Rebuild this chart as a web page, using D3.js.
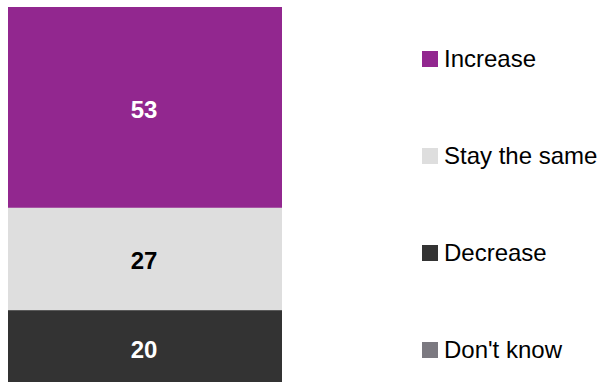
<!DOCTYPE html>
<html>
<head>
<meta charset="utf-8">
<script src="https://cdn.jsdelivr.net/npm/d3@7"></script>
<style>
  html, body { margin: 0; padding: 0; background: #fff; }
  svg { display: block; font-family: "Liberation Sans", Arial, sans-serif; }
</style>
</head>
<body>
<svg id="chart" width="599" height="382"></svg>
<script>
// Share of responses, one stacked column
const categories = ["Increase", "Stay the same", "Decrease", "Don't know"];
const values = [53, 27, 20, 0];
const colors = ["#92278F", "#DEDEDE", "#333333", "#7B7980"];
const labelColors = ["#ffffff", "#000000", "#ffffff", "#ffffff"];

const svg = d3.select("#chart");

const row = {};
categories.forEach((c, i) => row[c] = values[i]);
const series = d3.stack().keys(categories)([row]);

// The column runs past the bottom edge of the frame
const y = d3.scaleLinear().domain([0, 100]).range([7, 386]);
const x = d3.scaleBand().domain(["all"]).range([8, 282]).padding(0);

const segs = svg.append("g").selectAll("g")
  .data(series)
  .join("g");

segs.append("rect")
  .attr("x", x("all"))
  .attr("width", x.bandwidth())
  .attr("y", d => y(d[0][0]))
  .attr("height", d => y(d[0][1]) - y(d[0][0]))
  .attr("fill", (d, i) => colors[i]);

segs.filter(d => d[0][1] - d[0][0] > 0)
  .append("text")
  .attr("x", x("all") + x.bandwidth() / 2 - 1)
  .attr("y", d => (y(d[0][0]) + y(d[0][1])) / 2)
  .attr("dy", "0.42em")
  .attr("text-anchor", "middle")
  .attr("font-size", 24)
  .attr("font-weight", "bold")
  .attr("fill", d => labelColors[d.index])
  .text(d => d[0][1] - d[0][0]);

// Legend
const ly = d3.scalePoint().domain(categories).range([59, 350]);
const legend = svg.append("g").selectAll("g")
  .data(categories)
  .join("g")
  .attr("transform", d => `translate(422,${ly(d)})`);

legend.append("rect")
  .attr("x", 0).attr("y", -8)
  .attr("width", 16).attr("height", 16)
  .attr("fill", (d, i) => colors[i]);

legend.append("text")
  .attr("x", 22)
  .attr("y", 0)
  .attr("dy", "0.34em")
  .attr("font-size", 24)
  .attr("fill", "#000")
  .text(d => d);
</script>
</body>
</html>
